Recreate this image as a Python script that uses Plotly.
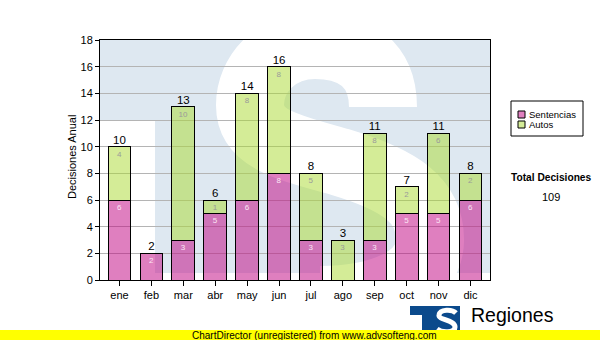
import plotly.graph_objects as go

# ---- data -------------------------------------------------------------
months = ["ene", "feb", "mar", "abr", "may", "jun", "jul", "ago", "sep", "oct", "nov", "dic"]
sentencias = [6, 2, 3, 5, 6, 8, 3, 0, 3, 5, 5, 6]
autos = [4, 0, 10, 1, 8, 8, 5, 3, 8, 2, 6, 2]
series_names = ["Sentencias", "Autos"]
y_ticks = list(range(0, 19, 2))
y_title = "Decisiones Anual"
summary_title = "Total Decisiones"
brand_name = "Regiones"
footer_text = "ChartDirector (unregistered) from www.advsofteng.com"

totals = [s + a for s, a in zip(sentencias, autos)]
grand_total = sum(totals)

# ---- geometry / style -------------------------------------------------
W, H = 600, 340
PL, PR, PT, PB = 100, 490, 40, 280          # plot area in pixels

PINK = "rgba(192,0,128,0.5)"
GREEN = "rgba(170,218,48,0.5)"
PINK_SOLID = "#e080c0"
GREEN_SOLID = "#d5ec98"
WATERMARK = "#dee8f1"
LOGO_BLUE = "#0b4a8c"
SANS = "Liberation Sans, Arial, sans-serif"


def to_paper(x, y):
    """Pixel position on the page -> paper coordinates of the plot area."""
    return (x - PL) / (PR - PL), (PB - y) / (PB - PT)


def svg_path(segments):
    parts = []
    for cmd, *pts in segments:
        coords = " ".join("{:.4f},{:.4f}".format(*to_paper(x, y)) for x, y in pts)
        parts.append(cmd + coords)
    return " ".join(parts)


def rect(x0, y0, x1, y1, fill, line=None, lw=0, layer="below"):
    px0, py0 = to_paper(x0, y1)
    px1, py1 = to_paper(x1, y0)
    return dict(type="rect", xref="paper", yref="paper", x0=px0, y0=py0, x1=px1, y1=py1,
                fillcolor=fill, line=dict(color=line or fill, width=lw), layer=layer)


def note(x, y, text, size, color="black", family=SANS, xanchor="center", angle=0):
    px, py = to_paper(x, y)
    return dict(xref="paper", yref="paper", x=px, y=py, text=text, showarrow=False,
                xanchor=xanchor, yanchor="middle", textangle=angle,
                font=dict(family=family, size=size, color=color))


# ---- traces -----------------------------------------------------------
fig = go.Figure()
fig.add_trace(go.Bar(
    x=months, y=sentencias, name=series_names[0],
    marker=dict(color=PINK, line=dict(color="black", width=1)),
    text=[str(v) if v else "" for v in sentencias],
    textposition="inside", insidetextanchor="end", constraintext="none", textangle=0,
    textfont=dict(family=SANS, size=8, color="#fbe6f4"),
    hoverinfo="skip", showlegend=False,
))
fig.add_trace(go.Bar(
    x=months, y=autos, name=series_names[1],
    marker=dict(color=GREEN, line=dict(color="black", width=1)),
    text=[str(v) if v else "" for v in autos],
    textposition="inside", insidetextanchor="end", constraintext="none", textangle=0,
    textfont=dict(family=SANS, size=8, color="#9a9a9a"),
    hoverinfo="skip", showlegend=False,
))
fig.add_trace(go.Scatter(
    x=months, y=totals, mode="text", text=[str(t) for t in totals],
    textposition="top center", textfont=dict(family=SANS, size=11.5, color="black"),
    cliponaxis=False, hoverinfo="skip", showlegend=False,
))

# ---- background logo watermark inside the plot area --------------------
shapes = [
    rect(PL, PT, PR, 120, WATERMARK),
    rect(155, PT, PR, 273, WATERMARK),
    dict(type="path", xref="paper", yref="paper", layer="below",
         path=svg_path([
             ("M", (383, 107)),
             ("C", (383, 65), (355, 45), (315, 45)),
             ("C", (275, 45), (250, 75), (250, 105)),
             ("C", (250, 140), (290, 148), (340, 162)),
             ("C", (400, 180), (430, 200), (430, 240)),
             ("C", (430, 280), (380, 300), (320, 300)),
         ]),
         line=dict(color="white", width=68)),
]

# ---- legend box ---------------------------------------------------------
shapes += [
    rect(511, 101, 583, 136, "white", "black", 1, layer="above"),
    rect(518, 111, 525, 118, PINK_SOLID, "black", 1, layer="above"),
    rect(518, 121, 525, 128, GREEN_SOLID, "black", 1, layer="above"),
]

# ---- brand logo and footer strip -----------------------------------------
shapes += [
    rect(410, 306, 460, 345, LOGO_BLUE, layer="above"),
    rect(410, 315, 422, 345, "white", layer="above"),
    dict(type="path", xref="paper", yref="paper", layer="above",
         path=svg_path([
             ("M", (456, 313)),
             ("C", (452, 309), (440, 309), (439, 315)),
             ("C", (438, 320), (455, 320), (455, 327)),
             ("C", (455, 333), (442, 333), (437, 329)),
         ]),
         line=dict(color="white", width=5)),
    rect(0, 330, W, H, "#ffff00", layer="above"),
]

annotations = [
    note(72, 157, y_title, 11, angle=-90),
    note(527, 114.5, series_names[0], 9.5, xanchor="left"),
    note(527, 124.5, series_names[1], 9.5, xanchor="left"),
    note(551, 177, "<b>" + summary_title + "</b>", 10.2),
    note(551, 196.5, str(grand_total), 11),
    note(469, 315, brand_name, 19.5, xanchor="left"),
    note(190, 335, footer_text, 10, xanchor="left"),
]

fig.update_layout(
    width=W, height=H,
    margin=dict(l=PL, r=W - PR, t=PT, b=H - PB, pad=0),
    paper_bgcolor="white", plot_bgcolor="white",
    barmode="stack", bargap=0.29,
    showlegend=False,
    shapes=shapes, annotations=annotations,
    font=dict(family=SANS, size=11, color="black"),
    xaxis=dict(
        showline=True, linecolor="black", linewidth=1, mirror=True,
        ticks="outside", ticklen=5, tickcolor="black",
        tickfont=dict(family=SANS, size=11, color="black"),
        showgrid=False, fixedrange=True,
    ),
    yaxis=dict(
        range=[0, 18], tickvals=y_ticks,
        showline=True, linecolor="black", linewidth=1, mirror=True,
        ticks="outside", ticklen=4, tickcolor="black",
        tickfont=dict(family=SANS, size=11, color="black"),
        showgrid=True, gridcolor="#b4b4b4", gridwidth=1,
        zeroline=False, fixedrange=True,
    ),
)

fig.write_html("out.html", config={"displayModeBar": False})
